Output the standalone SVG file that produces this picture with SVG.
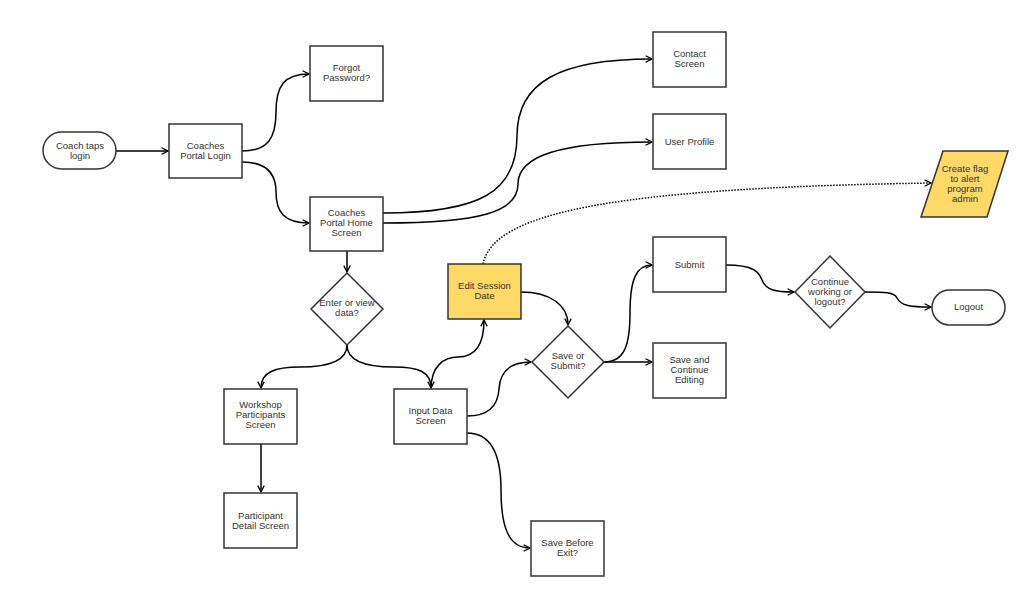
<svg xmlns="http://www.w3.org/2000/svg" width="1024" height="590" viewBox="0 0 1024 590">
<style>
.box{fill:#fff;stroke:#333;stroke-width:1.5}
.yel{fill:#FFD966;stroke:#333;stroke-width:1.5}
.t{font-family:"Liberation Sans",Arial,sans-serif;font-size:9.5px;fill:#333;text-anchor:middle}
.c{fill:none;stroke:#000;stroke-width:1.5}
.d{fill:none;stroke:#000;stroke-width:1.5;stroke-dasharray:1.5 1.5}
</style>
<defs>
<marker id="a" viewBox="0 0 10 10" markerWidth="8" markerHeight="8" refX="9" refY="5" orient="auto" markerUnits="userSpaceOnUse">
<path d="M1,1 L9,5 L1,9" fill="none" stroke="#000" stroke-width="1.6"/>
</marker>
</defs>
<rect width="1024" height="590" fill="#fff"/>
<g id="connectors">
<path class="c" marker-end="url(#a)" d="M116,151 L168,151"/>
<path class="c" marker-end="url(#a)" d="M242,151 C268,151 276,138 276,112 C276,86 284,74 309,74"/>
<path class="c" marker-end="url(#a)" d="M242,162 C268,162 276,175 276,192 C276,212 284,223 309,223"/>
<path class="c" marker-end="url(#a)" d="M383,213 C480,213 517,192 517,136 C517,82 560,59 652,59"/>
<path class="c" marker-end="url(#a)" d="M383,223 C480,223 518,212 518,184 C518,156 560,142 652,142"/>
<path class="c" marker-end="url(#a)" d="M347,251 L347,272"/>
<path class="c" marker-end="url(#a)" d="M347,345 C347,362 325,367 300,367 C275,367 261,372 261,388"/>
<path class="c" marker-end="url(#a)" d="M347,345 C347,362 369,367 394,367 C419,367 431,372 431,388"/>
<path class="c" marker-end="url(#a)" d="M431,389 C431,366 444,357 458,357 C475,357 484,345 484,320"/>
<path class="c" marker-end="url(#a)" d="M261,444 L261,492"/>
<path class="c" marker-end="url(#a)" d="M521,292 C550,292 568,305 568,325"/>
<path class="c" marker-end="url(#a)" d="M467,416 C490,416 498,405 499,389 C500,372 510,362 531,362"/>
<path class="c" marker-end="url(#a)" d="M467,433 C494,433 501,460 501,490 C501,530 510,548 530,548"/>
<path class="c" marker-end="url(#a)" d="M604,362 C624,362 630,346 630,313 C630,280 636,265 652,265"/>
<path class="c" marker-end="url(#a)" d="M604,362 L652,362"/>
<path class="c" marker-end="url(#a)" d="M726,265 C754,265 759,272 762,280 C766,290 775,292 794,292"/>
<path class="c" marker-end="url(#a)" d="M865,292 C885,292 894,292 897,298 C901,306 911,307 931,307"/>
<path class="d" marker-end="url(#a)" d="M483,264 C493,215 600,188 931,183"/>
</g>
<g id="coach-taps-login">
<rect class="box" x="43" y="132" width="73" height="37" rx="18.5"/>
<text class="t" x="80" y="149">Coach taps</text>
<text class="t" x="80" y="159">login</text>
</g>
<g id="coaches-portal-login">
<rect class="box" x="169" y="124" width="73" height="54"/>
<text class="t" x="205.5" y="149">Coaches</text>
<text class="t" x="205.5" y="159">Portal Login</text>
</g>
<g id="forgot-password">
<rect class="box" x="310" y="46" width="73" height="55"/>
<text class="t" x="346.5" y="71">Forgot</text>
<text class="t" x="346.5" y="81">Password?</text>
</g>
<g id="coaches-portal-home">
<rect class="box" x="310" y="197" width="73" height="54"/>
<text class="t" x="346.5" y="216">Coaches</text>
<text class="t" x="346.5" y="226">Portal Home</text>
<text class="t" x="346.5" y="236">Screen</text>
</g>
<g id="contact-screen">
<rect class="box" x="653" y="32" width="73" height="55"/>
<text class="t" x="689.5" y="57">Contact</text>
<text class="t" x="689.5" y="67">Screen</text>
</g>
<g id="user-profile">
<rect class="box" x="653" y="114" width="73" height="55"/>
<text class="t" x="689.5" y="145">User Profile</text>
</g>
<g id="create-flag">
<polygon class="yel" points="943,151 1008,151 987,217 921,217"/>
<text class="t" x="965" y="172">Create flag</text>
<text class="t" x="965" y="182">to alert</text>
<text class="t" x="965" y="192">program</text>
<text class="t" x="965" y="202">admin</text>
</g>
<g id="enter-or-view">
<polygon class="box" points="347,273 383,309 347,345 311,309"/>
<text class="t" x="347" y="306">Enter or view</text>
<text class="t" x="347" y="316">data?</text>
</g>
<g id="edit-session-date">
<rect class="yel" x="448" y="264" width="73" height="55"/>
<text class="t" x="484.5" y="289">Edit Session</text>
<text class="t" x="484.5" y="299">Date</text>
</g>
<g id="save-or-submit">
<polygon class="box" points="568,326 604,362 568,398 532,362"/>
<text class="t" x="568" y="359">Save or</text>
<text class="t" x="568" y="369">Submit?</text>
</g>
<g id="submit">
<rect class="box" x="653" y="237" width="73" height="55"/>
<text class="t" x="689.5" y="268">Submit</text>
</g>
<g id="save-and-continue">
<rect class="box" x="653" y="343" width="73" height="55"/>
<text class="t" x="689.5" y="363">Save and</text>
<text class="t" x="689.5" y="373">Continue</text>
<text class="t" x="689.5" y="383">Editing</text>
</g>
<g id="continue-working">
<polygon class="box" points="830,256 865,292 830,328 795,292"/>
<text class="t" x="830" y="285">Continue</text>
<text class="t" x="830" y="295">working or</text>
<text class="t" x="830" y="305">logout?</text>
</g>
<g id="logout">
<rect class="box" x="932" y="290" width="73" height="35" rx="17.5"/>
<text class="t" x="968.5" y="310">Logout</text>
</g>
<g id="workshop-participants">
<rect class="box" x="224" y="389" width="73" height="55"/>
<text class="t" x="260.5" y="408">Workshop</text>
<text class="t" x="260.5" y="418">Participants</text>
<text class="t" x="260.5" y="428">Screen</text>
</g>
<g id="input-data-screen">
<rect class="box" x="394" y="389" width="73" height="55"/>
<text class="t" x="430.5" y="414">Input Data</text>
<text class="t" x="430.5" y="424">Screen</text>
</g>
<g id="participant-detail">
<rect class="box" x="224" y="493" width="73" height="55"/>
<text class="t" x="260.5" y="519">Participant</text>
<text class="t" x="260.5" y="529">Detail Screen</text>
</g>
<g id="save-before-exit">
<rect class="box" x="531" y="521" width="73" height="55"/>
<text class="t" x="567.5" y="546">Save Before</text>
<text class="t" x="567.5" y="556">Exit?</text>
</g>
</svg>
